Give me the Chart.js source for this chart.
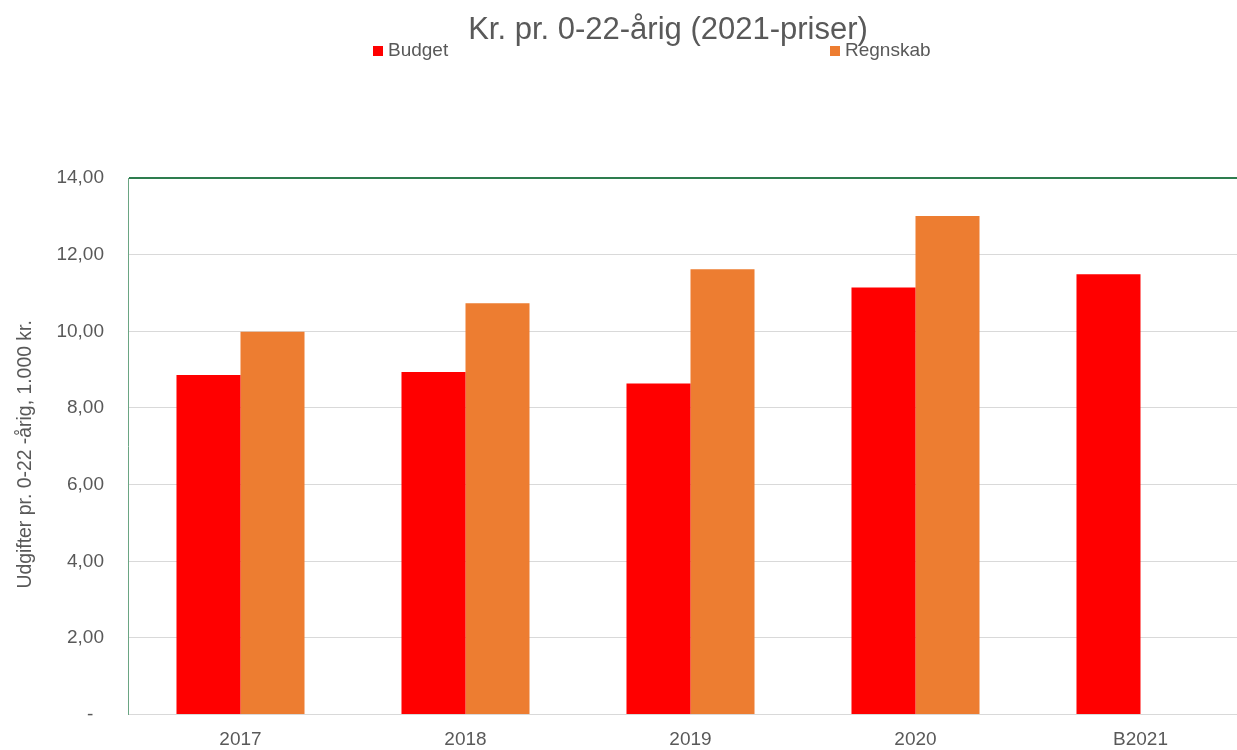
<!DOCTYPE html>
<html>
<head>
<meta charset="utf-8">
<script src="https://cdn.jsdelivr.net/npm/chart.js@4/dist/chart.umd.min.js"></script>
<style>
  html, body { margin: 0; padding: 0; background: #fff; overflow: hidden; }
  #wrap { width: 1237px; height: 750px; overflow: hidden; position: relative; }
  #holder { width: 1336px; height: 750px; position: absolute; left: 0; top: 0; }
</style>
</head>
<body>
<div id="wrap"><div id="holder"><canvas id="c" width="1336" height="750"></canvas></div></div>
<script>
const categories = ['2017', '2018', '2019', '2020', 'B2021'];
const budget = [8.86, 8.94, 8.64, 11.14, 11.49];
const regnskab = [9.99, 10.73, 11.62, 13.01, null];
const seriesNames = ['Budget', 'Regnskab'];
const yTicks = [0, 2, 4, 6, 8, 10, 12, 14];

const FONT = "'Liberation Sans', Arial, sans-serif";
const GREY = '#595959';

const customLegend = {
  id: 'customLegend',
  afterLayout(chart) {
    // center the title across the full canvas width (as in the reference)
    if (chart.titleBlock) {
      chart.titleBlock.right = chart.width;
      chart.titleBlock.width = chart.width - chart.titleBlock.left;
    }
  },
  afterDraw(chart, args, opts) {
    const ctx = chart.ctx;
    ctx.save();
    ctx.font = '19px ' + FONT;
    ctx.textBaseline = 'alphabetic';
    ctx.textAlign = 'left';
    chart.data.datasets.forEach((ds, i) => {
      const x = opts.xs[i];
      ctx.fillStyle = ds.backgroundColor;
      ctx.fillRect(x, opts.boxTop, 10, 10);
      ctx.fillStyle = GREY;
      ctx.fillText(ds.label, x + 15, opts.baseline);
    });
    ctx.restore();
  }
};

new Chart(document.getElementById('c'), {
  type: 'bar',
  data: {
    labels: categories,
    datasets: [
      { label: seriesNames[0], data: budget, backgroundColor: '#ff0000' },
      { label: seriesNames[1], data: regnskab, backgroundColor: '#ed7d31' }
    ]
  },
  options: {
    responsive: false,
    animation: false,
    devicePixelRatio: 1,
    layout: { padding: { left: 0, right: 83, top: 0, bottom: 0 } },
    datasets: { bar: { categoryPercentage: 0.569, barPercentage: 1.0 } },
    plugins: {
      legend: { display: false },
      tooltip: { enabled: false },
      title: {
        display: true,
        text: 'Kr. pr. 0-22-årig (2021-priser)',
        color: GREY,
        font: { family: FONT, size: 31, weight: 'normal', lineHeight: 1.2 },
        padding: { top: 12, bottom: 128.8 }
      },
      customLegend: { xs: [373, 830], boxTop: 46, baseline: 56 }
    },
    scales: {
      x: {
        grid: { display: false, drawTicks: false },
        border: { display: true, color: '#d9d9d9', width: 1 },
        ticks: { color: GREY, font: { family: FONT, size: 19 }, padding: 14, maxRotation: 0 },
        afterFit(s) { s.height = 34; }
      },
      y: {
        min: 0, max: 14,
        afterBuildTicks(s) { s.ticks = yTicks.map(v => ({ value: v })); },
        grid: {
          drawTicks: false,
          color: c => (c.tick && c.tick.value === 14) ? '#2e7d4f' : '#d9d9d9',
          lineWidth: c => (c.tick && c.tick.value === 14) ? 2 : 1
        },
        border: { display: true, color: '#6aa583', width: 1 },
        ticks: {
          color: GREY,
          font: { family: FONT, size: 19 },
          padding: 24,
          callback: v => v === 0 ? '-  ' : v.toFixed(2).replace('.', ',')
        },
        title: {
          display: true,
          text: 'Udgifter pr. 0-22 -årig, 1.000 kr.   ',
          color: GREY,
          font: { family: FONT, size: 19.4, weight: 'normal' },
          padding: { top: 14, bottom: 0 }
        },
        afterFit(s) { s.width = 128; }
      }
    }
  },
  plugins: [customLegend]
});
</script>
</body>
</html>
